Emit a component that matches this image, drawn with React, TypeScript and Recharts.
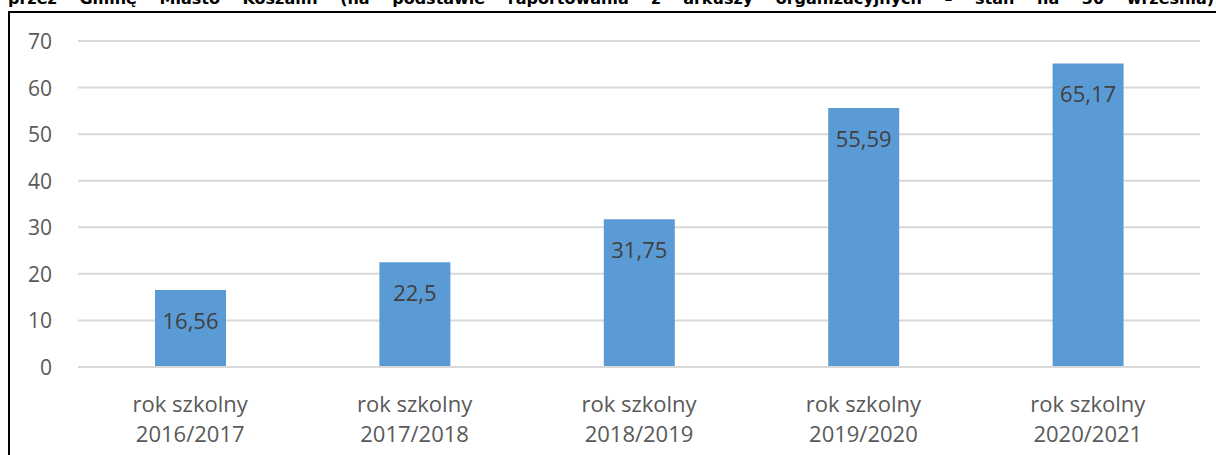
import React from 'react'
import { BarChart, Bar, XAxis, YAxis, CartesianGrid, LabelList } from 'recharts'

const categories = ['2016/2017', '2017/2018', '2018/2019', '2019/2020', '2020/2021']
const values = [16.56, 22.5, 31.75, 55.59, 65.17]
const valueLabels = ['16,56', '22,5', '31,75', '55,59', '65,17']
const yTicks = [0, 10, 20, 30, 40, 50, 60, 70]
const catPrefix = 'rok szkolny'
const heading = 'przez Gminę Miasto Koszalin (na podstawie raportowania z arkuszy organizacyjnych – stan na 30 września)'

const data = categories.map((c, i) => ({ name: c, value: values[i], label: valueLabels[i] }))

const FONT = '"Open Sans", "Noto Sans", sans-serif'

function XTick(props: any) {
  const { x, y, payload } = props
  return (
    <text x={x} y={y} textAnchor="middle" fill="#595959" fontSize={22} fontFamily={FONT}>
      <tspan x={x} dy={37}>{catPrefix}</tspan>
      <tspan x={x} dy={30}>{payload.value}</tspan>
    </text>
  )
}

function YTick(props: any) {
  const { y, payload } = props
  return (
    <text x={52} y={y} textAnchor="end" dominantBaseline="central" fill="#595959" fontSize={21} fontFamily={FONT}>
      {payload.value}
    </text>
  )
}

function ValueLabel(props: any) {
  const { x, y, width, value } = props
  return (
    <text x={x + width / 2} y={y + 30} textAnchor="middle" dominantBaseline="central" fill="#404040" fontSize={22} fontFamily={FONT}>
      {value}
    </text>
  )
}

export default function App() {
  return (
    <div style={{ position: 'fixed', left: 0, top: 0, width: 1216, height: 455, overflow: 'hidden', background: '#fff' }}>
      <div
        style={{
          position: 'absolute', left: 8, top: -11, width: 1206, fontFamily: '"DejaVu Sans", Verdana, sans-serif',
          fontWeight: 'bold', fontSize: 16, lineHeight: '20px', textAlign: 'justify', textAlignLast: 'justify', color: '#000',
          whiteSpace: 'nowrap',
        }}
      >
        {heading}
      </div>
      <div style={{ position: 'absolute', left: 8, top: 11, width: 1220, height: 460, borderLeft: '2px solid #000', borderTop: '2px solid #000' }} />
      <div style={{ position: 'absolute', left: 0, top: 0 }}>
        <BarChart width={1216} height={455} data={data} margin={{ top: 41, right: 16, bottom: 0, left: 0 }} barSize={71}>
          <CartesianGrid vertical={false} stroke="#d9d9d9" strokeWidth={2} />
          <XAxis dataKey="name" tick={<XTick />} tickLine={false} axisLine={{ stroke: '#d9d9d9', strokeWidth: 2 }} interval={0} height={88} />
          <YAxis width={78} domain={[0, 70]} ticks={yTicks} tick={<YTick />} tickLine={false} axisLine={false} />
          <Bar dataKey="value" fill="#5B9BD5" isAnimationActive={false}>
            <LabelList dataKey="label" content={<ValueLabel />} />
          </Bar>
        </BarChart>
      </div>
    </div>
  )
}
